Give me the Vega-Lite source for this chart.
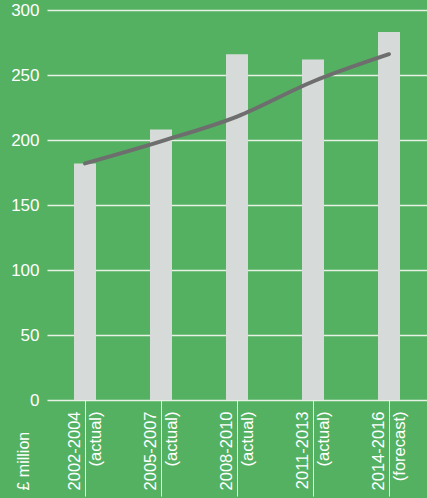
{
  "$schema": "https://vega.github.io/schema/vega-lite/v6.json",
  "width": 380,
  "height": 390,
  "autosize": "none",
  "padding": {"left": 47, "top": 10, "right": 0, "bottom": 98},
  "background": "#54b162",
  "config": {
    "view": {"stroke": null},
    "axis": {"labelFont": "Liberation Sans", "titleFont": "Liberation Sans", "labelColor": "#ffffff", "titleColor": "#ffffff"}
  },
  "data": {
    "values": [
      {"period": "2002-2004|(actual)", "spend": 182, "trend": 182},
      {"period": "2005-2007|(actual)", "spend": 208, "trend": 199},
      {"period": "2008-2010|(actual)", "spend": 266, "trend": 218},
      {"period": "2011-2013|(actual)", "spend": 262, "trend": 245},
      {"period": "2014-2016|(forecast)", "spend": 283, "trend": 266}
    ]
  },
  "encoding": {
    "x": {
      "field": "period",
      "type": "nominal",
      "sort": null,
      "scale": {"paddingInner": 0, "paddingOuter": 0},
      "axis": {
        "title": null,
        "domain": false,
        "labelAngle": -90,
        "labelExpr": "split(datum.label, '|')",
        "labelFontSize": 16.5,
        "labelLineHeight": 21,
        "labelAlign": "right",
        "labelBaseline": "middle",
        "labelPadding": -85,
        "labelOffset": -10.5,
        "ticks": true,
        "tickSize": 96,
        "tickColor": "#e8f2e4",
        "tickWidth": 1,
        "labelLimit": 200
      }
    }
  },
  "layer": [
    {
      "mark": {"type": "bar", "width": 22, "color": "#d6dbda"},
      "encoding": {
        "y": {
          "field": "spend",
          "type": "quantitative",
          "scale": {"domain": [0, 300], "nice": false},
          "axis": {
            "title": "£ million",
            "titleAngle": 270,
            "titleAlign": "left",
            "titleBaseline": "middle",
            "titleFontSize": 16,
            "titleFontWeight": "normal",
            "titleX": -24,
            "titleY": 480,
            "values": [0, 50, 100, 150, 200, 250, 300],
            "grid": true,
            "gridColor": "#e8f2e4",
            "gridWidth": 1.5,
            "domain": false,
            "ticks": false,
            "labelPadding": 8,
            "labelFontSize": 17
          }
        }
      }
    },
    {
      "mark": {"type": "line", "color": "#6e6e6e", "strokeWidth": 4, "interpolate": "monotone", "strokeCap": "round"},
      "encoding": {
        "y": {"field": "trend", "type": "quantitative"}
      }
    }
  ]
}
